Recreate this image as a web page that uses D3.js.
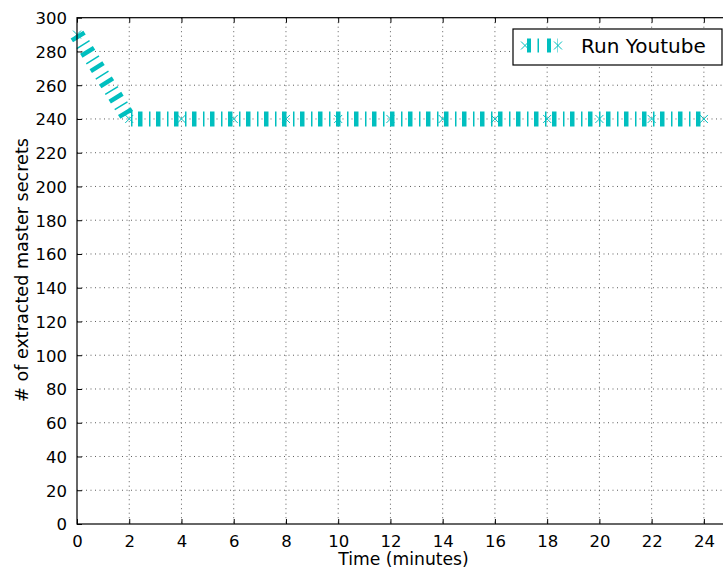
<!DOCTYPE html>
<html>
<head>
<meta charset="utf-8">
<style>
  body { margin: 0; background: #fff; }
  svg { display: block; font-family: "DejaVu Sans", sans-serif; }
  .grid line { stroke: #333; stroke-width: 0.8; stroke-dasharray: 1,3.5; }
</style>
</head>
<body>
<script src="https://d3js.org/d3.v7.min.js"></script>
<script>
// data
var minutes = [0, 2, 4, 6, 8, 10, 12, 14, 16, 18, 20, 22, 24];
var secrets = [290, 240, 240, 240, 240, 240, 240, 240, 240, 240, 240, 240, 240];
var seriesName = "Run Youtube";
var xTicks = [0, 2, 4, 6, 8, 10, 12, 14, 16, 18, 20, 22, 24];
var yTicks = [0, 20, 40, 60, 80, 100, 120, 140, 160, 180, 200, 220, 240, 260, 280, 300];

var width = 723, height = 571;
var plotLeft = 77, plotRight = 730, plotTop = 17.7, plotBottom = 524;
var cyan = "#00bfbf";

var svg = d3.select("body").append("svg")
    .attr("width", width)
    .attr("height", height);

var x = d3.scaleLinear().domain([0, 25]).range([plotLeft, plotRight]);
var y = d3.scaleLinear().domain([0, 300]).range([plotBottom, plotTop]);

// grid
var grid = svg.append("g").attr("class", "grid");
grid.selectAll(".gx").data(xTicks.filter(d => d > 0))
  .enter().append("line")
    .attr("x1", d => x(d)).attr("x2", d => x(d))
    .attr("y1", plotTop).attr("y2", plotBottom);
grid.selectAll(".gy").data(yTicks.filter(d => d > 0 && d < 300))
  .enter().append("line")
    .attr("x1", plotLeft).attr("x2", plotRight)
    .attr("y1", d => y(d)).attr("y2", d => y(d));

// the series: thick dash-dot stroke plus x markers
var line = d3.line().x((d, i) => x(minutes[i])).y(d => y(d));
svg.append("path")
    .datum(secrets)
    .attr("d", line)
    .attr("fill", "none")
    .attr("stroke", cyan)
    .attr("stroke-width", 15)
    .attr("stroke-dasharray", "4.5,6.5,1.5,5.5");

function cross(g, cx, cy) {
  var s = 4;
  g.append("path")
    .attr("d", "M" + (cx - s) + "," + (cy - s) + "L" + (cx + s) + "," + (cy + s) +
               "M" + (cx - s) + "," + (cy + s) + "L" + (cx + s) + "," + (cy - s))
    .attr("stroke", cyan)
    .attr("stroke-width", 1)
    .attr("fill", "none");
}
var marks = svg.append("g");
secrets.forEach((v, i) => cross(marks, x(minutes[i]), y(v)));

// axes frame (classic style: ticks inside on every side)
svg.append("rect")
    .attr("x", plotLeft).attr("y", plotTop)
    .attr("width", plotRight - plotLeft).attr("height", plotBottom - plotTop)
    .attr("fill", "none").attr("stroke", "#000").attr("stroke-width", 1.2);

var xAxis = d3.axisBottom(x).tickValues(xTicks).tickSizeInner(-5).tickSizeOuter(0).tickPadding(11);
svg.append("g").attr("transform", "translate(0," + plotBottom + ")").call(xAxis);
var xTopAxis = d3.axisTop(x).tickValues(xTicks).tickSizeInner(-5).tickSizeOuter(0).tickFormat("");
svg.append("g").attr("transform", "translate(0," + plotTop + ")").call(xTopAxis);

var yAxis = d3.axisLeft(y).tickValues(yTicks).tickSizeInner(-5).tickSizeOuter(0).tickPadding(10);
var yg = svg.append("g").attr("transform", "translate(" + plotLeft + ",0)").call(yAxis);
var yRightAxis = d3.axisRight(y).tickValues(yTicks).tickSizeInner(-5).tickSizeOuter(0).tickFormat("");
svg.append("g").attr("transform", "translate(" + plotRight + ",0)").call(yRightAxis);

svg.selectAll(".domain").remove();
svg.selectAll(".tick line").attr("stroke", "#000").attr("stroke-width", 1);
svg.selectAll(".tick text")
    .attr("font-family", "DejaVu Sans")
    .attr("font-size", 16.5)
    .attr("fill", "#000");
yg.selectAll(".tick text").attr("dy", "0.36em");

// axis labels
svg.append("text")
    .attr("x", (plotLeft + plotRight) / 2).attr("y", 565)
    .attr("text-anchor", "middle")
    .attr("font-size", 17.2)
    .text("Time (minutes)");
svg.append("text")
    .attr("transform", "translate(28," + 270 + ") rotate(-90)")
    .attr("text-anchor", "middle")
    .attr("font-size", 17.6)
    .text("# of extracted master secrets");

// legend
var lg = svg.append("g");
lg.append("rect")
    .attr("x", 513).attr("y", 29).attr("width", 209).attr("height", 36)
    .attr("fill", "#fff").attr("stroke", "#000").attr("stroke-width", 1.2);
lg.append("line")
    .attr("x1", 525).attr("x2", 558).attr("y1", 45.5).attr("y2", 45.5)
    .attr("stroke", cyan).attr("stroke-width", 14)
    .attr("stroke-dasharray", "0,2,4,6.5,1.5,6");
cross(lg, 525, 45.5);
cross(lg, 558, 45.5);
lg.append("text")
    .attr("x", 581).attr("y", 52.5)
    .attr("font-size", 20)
    .text(seriesName);
</script>
</body>
</html>
